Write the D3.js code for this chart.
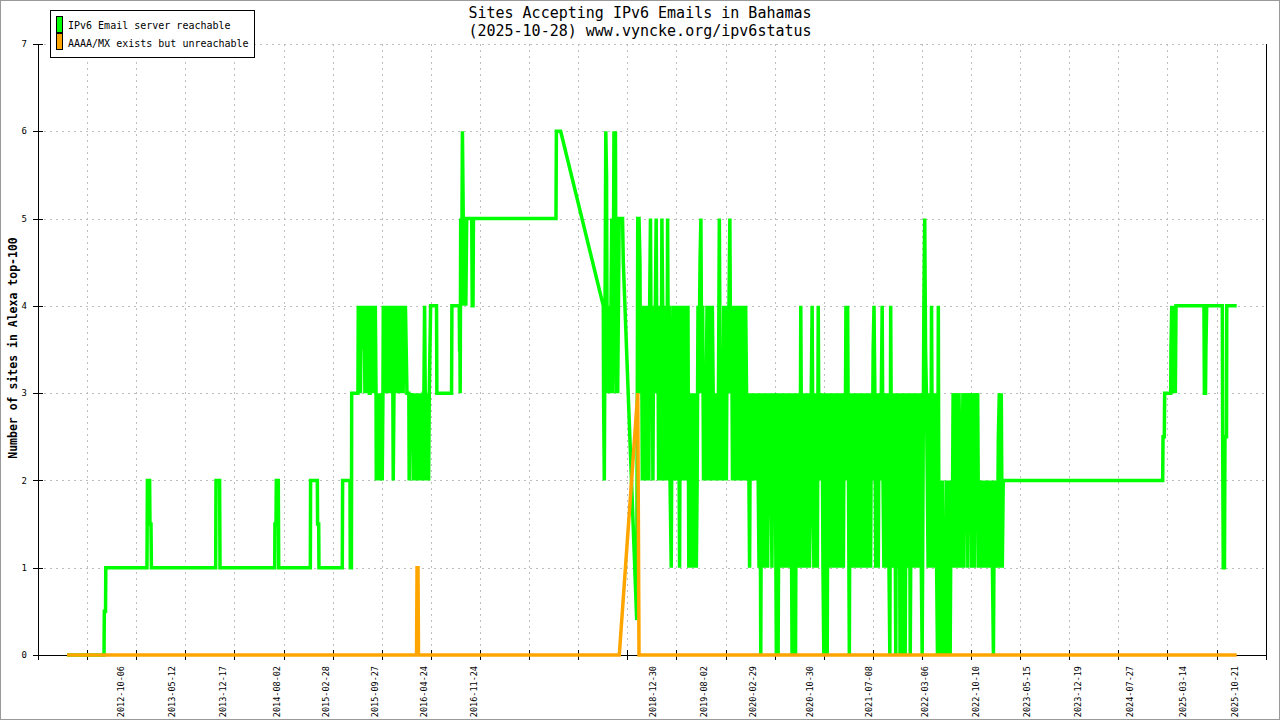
<!DOCTYPE html>
<html>
<head>
<meta charset="utf-8">
<script src="https://cdn.jsdelivr.net/npm/d3@7"></script>
<style>
  html, body { margin: 0; padding: 0; background: #fff; }
  svg { display: block; }
  text { font-family: "DejaVu Sans Mono", "Liberation Mono", monospace; fill: #000; }
</style>
</head>
<body>
<svg id="chart" width="1280" height="720"></svg>
<script>
// ---------- DATA (x values are decimal years, y values are site counts) ----------
const titleLines = ["Sites Accepting IPv6 Emails in Bahamas", "(2025-10-28) www.vyncke.org/ipv6status"];
const yLabel = "Number of sites in Alexa top-100";
const seriesNames = ["IPv6 Email server reachable", "AAAA/MX exists but unreachable"];
const yTicks = [0, 1, 2, 3, 4, 5, 6, 7];
const xDomain = [2011.7906, 2026.1597];
const xTickLabels = ["2012-10-06","2013-05-12","2013-12-17","2014-08-02","2015-02-28","2015-09-27",
  "2016-04-24","2016-11-24","2018-12-30","2019-08-02","2020-02-29","2020-10-30","2021-07-08",
  "2022-03-06","2022-10-10","2023-05-15","2023-12-19","2024-07-27","2025-03-14","2025-10-21"];

// Green series: sparse stretches as [year, value]; dense stretches as evenly spaced samples
const greenSparse2012 = [[2012.130,0],[2012.563,0],[2012.567,0.5],[2012.581,0.5],[2012.584,1],
  [2013.066,1],[2013.071,2],[2013.097,2],[2013.101,1.5],[2013.113,1.5],[2013.118,1],
  [2013.870,1],[2013.874,2],[2013.916,2],[2013.921,1],
  [2014.561,1],[2014.564,1.5],[2014.576,1.5],[2014.580,2],[2014.603,2],[2014.608,1],
  [2014.978,1],[2014.981,2],[2015.060,2],[2015.063,1.5],[2015.076,1.5],[2015.079,1],
  [2015.352,1],[2015.356,2],[2015.442,2],[2015.446,1],[2015.459,1],[2015.462,3],[2015.535,3]];
const dense2015a = {from:2015.539, to:2015.747, values:[4,3,4,3,4,3.5,4,3.5,4,3,4,3,4,3,4,3,3,4,3,4,3.5,4,3,4,3]};
const dense2015b = {from:2015.750, to:2015.828, values:[2,3,2,3,2,3,2,3,2,3]};
const dense2015c = {from:2015.832, to:2016.109, values:[4,3,4,3,4,3,4,3,4,3,4,3,4,2,3,4,3,4,3,4,3,4,3,4,3,4,3,4,3.5,4,3.5,3]};
const greenSparse2016a = [[2016.131,3]];
const dense2016a = {from:2016.135, to:2016.370, values:[2,3,2.5,3,2.5,3,2,3,2,3,2,3,2,3,2,3,2,3,2,3,2,3,3,4,3,2,3,2,3,2,3]};
const greenSparse2016b = [[2016.386,4],[2016.455,4],[2016.459,3],[2016.631,3],[2016.635,4],[2016.721,4],
  [2016.725,3.5],[2016.729,3.5],[2016.732,3]];
const dense2016b = {from:2016.738, to:2016.808, values:[5,4,6,5,4,5,4,5]};
const greenSparse2017 = [[2016.867,5],[2016.873,4],[2016.882,4],[2016.887,5],[2017.853,5],[2017.858,6],
  [2017.908,6],[2018.407,4]];
const dense2018a = {from:2018.410, to:2018.610, values:[3,2,4,6,5.5,3,4,3,4,3,4,5,3,4,6,4,6,3,4,3,4,5,5,5]};
const greenSparse2018 = [[2018.632,5],[2018.641,4.5],[2018.798,0.4],[2018.810,5],[2018.825,5],[2018.836,4.5],[2018.842,3]];
const dense2019a = {from:2018.854, to:2019.188, values:[4,2,4,3,4,2,4,3,4,2, 4,5,3,4,2,4,3,4,5,3,
  4,2,4,3,2,5,4,2,4,3, 4,2,5,3,4,2]};
const dense2019b = {from:2019.202, to:2019.525, values:[1,3,4,2,4,3,4,2,4,3, 1,4,2,4,3,4,2,4,3,2,
  4,1,3,2,1,3,2,3,1,3, 1,2,4,3]};
const dense2019c = {from:2019.539, to:2020.104, values:[4.5,5,3,4,2,3,2,3,4,2, 4,3,4,2,4,3,2,3,2,3,
  2,3,5,3,2,3,2,4,3,4, 2,4,3,4,5,3,4,2,4,3, 4,2,4,3,4,2,3,4,2,4, 3,2,4,3,2,3]};
const dense2020a = {from:2020.119, to:2020.411, values:[1,3,2,3,2,3,2,3,2,3, 2,1,3,0,3,1,3,2,1,3,
  2,1,3,2,3,2,1,3,2,3]};
const dense2020b = {from:2020.422, to:2020.943, values:[2,0,3,0,2,3,1,3,2,1, 3,2,1,3,2,3,1,3,2,0,
  3,1,2,0,3,1,2,3,1,4, 2,3,1,3,2,1,3,2,3,1, 2,3,4,2,1,3,2,3,1,4, 2,3]};
const dense2021a = {from:2020.958, to:2021.645, values:[2,3,1,0,3,1,2,0,3,1, 3,2,1,3,2,3,1,3,2,1,
  3,1,3,2,1,3,1,3,2,4, 3,4,2,0,3,1,3,2,1,3, 2,3,1,3,2,1,3,2,3,1, 3,2,1,3,1,3,2,3,1,3,
  2,3.5,4,3,1,3,2,1,3,2]};
const dense2021b = {from:2021.661, to:2022.348, values:[3,4,2,1,3,2,1,3,2,1, 0,4,2,3,1,3,2,0,3,1,
  2,3,0,2,3,0,2,3,0,2, 3,1,2,3,0,2,1,3,2,1, 3,2,1,3,2,1,3,1,0,2, 4,5,3.5,3,2,1,3,2,1,4,
  2,3,1,2,3,1,0,4,0,2]};
const dense2022 = {from:2022.363, to:2023.088, values:[0,2,0,1,0,2,0,1,2,0, 2,1,3,2,1,3,2.5,1,3,2,
  1,2,3,1,3,2,3,1,3,2, 3,1,3,2.5,1,3,2,3,1,2, 1,2,1,2,1,2,1,2,1,2, 1,2,1,0,2,1,2,1,2.5,3,
  1,3,1,2]};
const greenSparse2023 = [[2024.954,2],[2024.958,2.5],[2024.973,2.5],[2024.977,3],[2025.048,3],[2025.051,3.5],
  [2025.060,4],[2025.078,3],[2025.086,4],[2025.102,3],[2025.110,4],[2025.437,4],[2025.442,3],[2025.455,3],
  [2025.460,3.5],[2025.469,4],[2025.652,4],[2025.656,2.5],[2025.663,1],[2025.677,1],[2025.683,2.5],
  [2025.701,2.5],[2025.704,4],[2025.820,4]];

// Orange series
const orangePoints = [[2012.130,0],[2016.221,0],[2016.227,1],[2016.238,1],[2016.244,0],
  [2018.594,0],[2018.810,3],[2018.825,0],[2025.820,0]];

// ---------- BUILD ----------
function expandPart(p) {
  if (Array.isArray(p)) return p;
  const n = p.values.length;
  return p.values.map((v, i) => [p.from + (p.to - p.from) * (n === 1 ? 0 : i / (n - 1)), v]);
}
const greenParts = [greenSparse2012, dense2015a, dense2015b, dense2015c, greenSparse2016a, dense2016a,
  greenSparse2016b, dense2016b, greenSparse2017, dense2018a, greenSparse2018, dense2019a, dense2019b,
  dense2019c, dense2020a, dense2020b, dense2021a, dense2021b, dense2022, greenSparse2023];
const greenPoints = greenParts.flatMap(expandPart);

function toYear(s) {
  const d = new Date(s + "T00:00:00Z");
  const yr = d.getUTCFullYear();
  const a = Date.UTC(yr, 0, 1), b = Date.UTC(yr + 1, 0, 1);
  return yr + (d.getTime() - a) / (b - a);
}

(function draw() {
  const W = 1280, H = 720;
  const pLeft = 38, pRight = 1265.7, pTop = 44, pBottom = 655;
  const x = d3.scaleLinear().domain(xDomain).range([pLeft, pRight]);
  const y = d3.scaleLinear().domain([0, 7]).range([pBottom, pTop]);
  const px = v => Math.round(v) + 0.5;

  const svg = d3.select("#chart");
  svg.append("rect").attr("x", 0.5).attr("y", 0.5).attr("width", W - 1).attr("height", H - 1)
    .attr("fill", "#fff").attr("stroke", "#9a9a9a");

  // grid
  const gridTicks = d3.range(26).map(k => xDomain[0] + k * (xDomain[1] - xDomain[0]) / 25);
  const grid = svg.append("g").attr("stroke", "#bdbdbd").attr("stroke-dasharray", "2,4")
    .attr("shape-rendering", "crispEdges");
  grid.selectAll("line.h").data(yTicks.filter(v => v > 0)).join("line").attr("class", "h")
    .attr("x1", pLeft).attr("x2", pRight)
    .attr("y1", d => px(y(d))).attr("y2", d => px(y(d)));
  grid.selectAll("line.v").data(gridTicks.slice(1, 25)).join("line").attr("class", "v")
    .attr("x1", d => px(x(d))).attr("x2", d => px(x(d)))
    .attr("y1", pTop).attr("y2", pBottom);

  // axes
  const axes = svg.append("g").attr("stroke", "#000").attr("shape-rendering", "crispEdges");
  axes.append("line").attr("x1", px(pLeft)).attr("x2", px(pLeft)).attr("y1", pTop).attr("y2", pBottom);
  axes.append("line").attr("x1", pLeft).attr("x2", pRight).attr("y1", px(pBottom)).attr("y2", px(pBottom));
  axes.append("line").attr("x1", px(pRight)).attr("x2", px(pRight)).attr("y1", pTop).attr("y2", pBottom);
  axes.selectAll("line.yt").data(yTicks).join("line").attr("class", "yt")
    .attr("x1", pLeft - 5).attr("x2", pLeft + 5)
    .attr("y1", d => px(y(d))).attr("y2", d => px(y(d)));
  axes.selectAll("line.xt").data(gridTicks).join("line").attr("class", "xt")
    .attr("x1", d => px(x(d))).attr("x2", d => px(x(d)))
    .attr("y1", pBottom - 5).attr("y2", pBottom + 5);

  // tick labels
  svg.append("g").selectAll("text").data(yTicks).join("text")
    .attr("x", 27).attr("y", d => y(d)).attr("dy", "0.35em")
    .attr("text-anchor", "end").attr("font-size", 9).text(d => d);
  svg.append("g").selectAll("text").data(xTickLabels).join("text")
    .attr("transform", d => `translate(${x(toYear(d))},666) rotate(-90)`)
    .attr("dy", "0.35em").attr("text-anchor", "end").attr("font-size", 8.5).text(d => d);

  // y label
  svg.append("text").attr("transform", "translate(13,348) rotate(-90)")
    .attr("dy", "0.35em").attr("text-anchor", "middle").attr("font-size", 11.5)
    .attr("font-weight", "bold").text(yLabel);

  // title
  svg.append("g").selectAll("text").data(titleLines).join("text")
    .attr("x", 640).attr("y", (d, i) => 18 + i * 18).attr("text-anchor", "middle")
    .attr("font-size", 15).text(d => d);

  // lines
  const line = d3.line().x(d => x(d[0])).y(d => y(d[1]));
  svg.append("path").datum(greenPoints).attr("d", line)
    .attr("fill", "none").attr("stroke", "#00ff00").attr("stroke-width", 3.5);
  svg.append("path").datum(orangePoints).attr("d", line)
    .attr("fill", "none").attr("stroke", "#ffa500").attr("stroke-width", 3.5);

  // legend
  const colors = ["#00ff00", "#ffa500"];
  const lg = svg.append("g");
  lg.append("rect").attr("x", 50.5).attr("y", 10.5).attr("width", 204).attr("height", 47)
    .attr("fill", "#fff").attr("stroke", "#000").attr("shape-rendering", "crispEdges");
  seriesNames.forEach((name, i) => {
    lg.append("rect").attr("x", 56.5).attr("y", 16.5 + i * 17.3).attr("width", 6).attr("height", 15.5)
      .attr("fill", colors[i]).attr("stroke", "#000").attr("shape-rendering", "crispEdges");
    lg.append("text").attr("x", 68).attr("y", 25.5 + i * 17.5).attr("dy", "0.35em")
      .attr("font-size", 10).text(name);
  });
})();
</script>
</body>
</html>
